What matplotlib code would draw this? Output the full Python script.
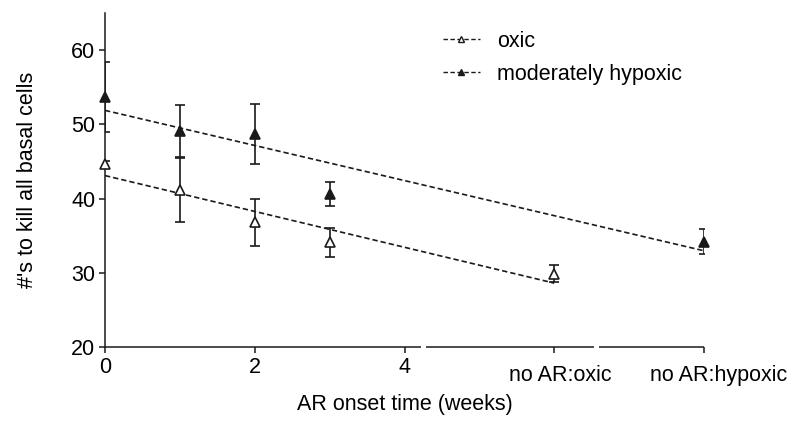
import matplotlib
matplotlib.use('Agg')
import matplotlib.pyplot as plt
import matplotlib.transforms as mtransforms
import numpy as np

plt.rcParams['font.family'] = ['Liberation Sans', 'DejaVu Sans']

# weeks 0-3, the "no AR" groups sit at positions 6 and 8 on the x axis
oxic_x = [0, 1, 2, 3, 6]
oxic_y = [44.6, 41.1, 36.8, 34.1, 29.9]
oxic_err = [0.5, 4.3, 3.2, 2.0, 1.2]

hyp_x = [0, 1, 2, 3, 8]
hyp_y = [53.7, 49.1, 48.7, 40.6, 34.2]
hyp_err = [4.7, 3.5, 4.05, 1.6, 1.7]

tick_pos = [0, 2, 4, 6, 8]
tick_labels = ['0', '2', '4', 'no AR:oxic', 'no AR:hypoxic']
y_ticks = [20, 30, 40, 50, 60]

fig = plt.figure(figsize=(7.91, 4.21), dpi=100)
ax = fig.add_axes([105 / 791, 1 - 347 / 421, (704 - 105) / 791, (347 - 13) / 421])

dash = (0, (3.2, 1.8))
ink = '#1a1a1a'

for xs, ys, err, face, lab in [(oxic_x, oxic_y, oxic_err, 'white', 'oxic'),
                                (hyp_x, hyp_y, hyp_err, ink, 'moderately hypoxic')]:
    ax.errorbar(xs, ys, yerr=err, fmt='none', ecolor=ink, elinewidth=1.2,
                capsize=3.8, capthick=1.2, zorder=3)
    # linear fit over the data range
    k, b = np.polyfit(xs, ys, 1)
    fx = np.array([min(xs), max(xs)])
    ax.plot(fx, k * fx + b, color=ink, lw=1.2, linestyle=dash, zorder=2)
    ax.plot(xs, ys, linestyle='none', marker='^', ms=7, mfc=face, mec=ink,
            mew=1.2, zorder=4, clip_on=False)
    # legend proxy
    ax.plot([], [], color=ink, lw=1.0, linestyle=dash, marker='^', ms=5,
            mfc=face, mec=ink, mew=1.0, label=lab)

ax.set_xlim(0, 8)
ax.set_ylim(20, 65)
ax.set_yticks(y_ticks)
ax.set_xticks(tick_pos)
ax.set_xticklabels(tick_labels)

for side in ['top', 'right', 'bottom']:
    ax.spines[side].set_visible(False)
ax.spines['left'].set_linewidth(1.1)
ax.spines['left'].set_color(ink)

# broken x axis drawn as three pieces
tr = ax.get_xaxis_transform()
for x0, x1 in [(0, 4.22), (4.29, 6.53), (6.6, 8)]:
    ax.plot([x0, x1], [0, 0], color=ink, lw=1.1, transform=tr, clip_on=False,
            solid_capstyle='butt')

ax.tick_params(axis='both', direction='out', length=4, width=1.1, color=ink,
               labelsize=15.5, pad=3)
for t in ax.xaxis.get_major_ticks()[3:]:
    t.set_pad(9)
# text labels sit a little right of their ticks, as in the original
for lbl, dx in zip(ax.get_xticklabels()[3:], [6, 15]):
    lbl.set_transform(lbl.get_transform() +
                      mtransforms.ScaledTranslation(dx / 100, 0, fig.dpi_scale_trans))

ax.set_xlabel('AR onset time (weeks)', fontsize=15.5, labelpad=6)
ax.set_ylabel("#'s to kill all basal cells", fontsize=15.5, labelpad=24)

ax.legend(loc='upper left', bbox_to_anchor=(443 / 791, 1 - 31 / 421),
          bbox_transform=fig.transFigure, frameon=False, fontsize=15.5,
          handlelength=1.7, handletextpad=0.8, labelspacing=0.55,
          borderpad=0, borderaxespad=0)

fig.savefig('out.png', dpi=100)
